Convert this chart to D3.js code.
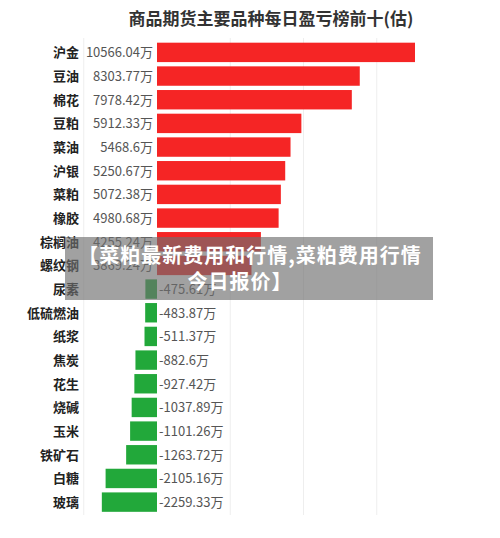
<!DOCTYPE html>
<html><head><meta charset="utf-8">
<script src="https://cdn.jsdelivr.net/npm/d3@7"></script>
<style>body{margin:0;background:#fff;font-family:"Noto Sans CJK SC","Noto Sans",sans-serif}</style>
</head><body>
<script>
var names = ['沪金','豆油','棉花','豆粕','菜油','沪银','菜粕','橡胶','棕榈油','螺纹钢',
  '尿素','低硫燃油','纸浆','焦炭','花生','烧碱','玉米','铁矿石','白糖','玻璃'];
var values = [10566.04, 8303.77, 7978.42, 5912.33, 5468.6, 5250.67, 5072.38, 4980.68, 4255.24, 3869.24,
  -475.61, -483.87, -511.37, -882.6, -927.42, -1037.89, -1101.26, -1263.72, -2105.16, -2259.33];
var labels = ['10566.04万','8303.77万','7978.42万','5912.33万','5468.6万','5250.67万','5072.38万','4980.68万','4255.24万','3869.24万',
  '-475.61万','-483.87万','-511.37万','-882.6万','-927.42万','-1037.89万','-1101.26万','-1263.72万','-2105.16万','-2259.33万'];
var gridTicks = [-3000, 3000, 6000, 9000];

var w = 500, h = 538;
var svg = d3.select('body').append('svg').attr('width', w).attr('height', h);

var x = d3.scaleLinear().domain([0, 10566.04]).range([157, 415]);
var y = d3.scaleBand().domain(names).range([41.5, 513]).paddingInner(0.18).paddingOuter(0.05);

svg.selectAll('line.grid').data(gridTicks).enter().append('line')
  .attr('x1', function(d) { return x(d); }).attr('x2', function(d) { return x(d); })
  .attr('y1', 38).attr('y2', 515).attr('stroke', '#eeeeee');

svg.append('text').attr('x', 271).attr('y', 25).attr('text-anchor', 'middle')
  .attr('font-size', 17).attr('font-weight', 'bold').attr('fill', '#333').text('商品期货主要品种每日盈亏榜前十(估)');

svg.selectAll('rect.bar').data(values).enter().append('rect')
  .attr('x', function(d) { return d >= 0 ? x(0) : x(d); })
  .attr('y', function(d, i) { return y(names[i]); })
  .attr('width', function(d) { return Math.abs(x(d) - x(0)); })
  .attr('height', y.bandwidth())
  .attr('fill', function(d) { return d >= 0 ? '#f52525' : '#22a83a'; });

svg.selectAll('text.name').data(names).enter().append('text')
  .attr('x', 79).attr('y', function(d) { return y(d) + y.bandwidth() / 2 + 5; })
  .attr('text-anchor', 'end').attr('font-size', 13).attr('font-weight', 'bold').attr('fill', '#222')
  .text(function(d) { return d; });

svg.selectAll('text.val').data(values).enter().append('text')
  .attr('x', function(d) { return d >= 0 ? 153 : 159; })
  .attr('y', function(d, i) { return y(names[i]) + y.bandwidth() / 2 + 5; })
  .attr('text-anchor', function(d) { return d >= 0 ? 'end' : 'start'; })
  .attr('font-size', 13).attr('fill', '#555')
  .text(function(d, i) { return labels[i]; });

// overlay banner
svg.append('rect').attr('x', 65).attr('y', 237).attr('width', 368).attr('height', 63)
  .attr('fill', 'rgba(110,110,110,0.65)');
svg.append('text').attr('x', 250).attr('y', 263).attr('text-anchor', 'middle')
  .attr('font-size', 20).attr('letter-spacing', 1).attr('font-weight', 'bold').attr('fill', '#fff').text('【菜粕最新费用和行情,菜粕费用行情');
svg.append('text').attr('x', 240).attr('y', 289).attr('text-anchor', 'middle')
  .attr('font-size', 20).attr('letter-spacing', 1).attr('font-weight', 'bold').attr('fill', '#fff').text('今日报价】');
</script>
</body></html>
